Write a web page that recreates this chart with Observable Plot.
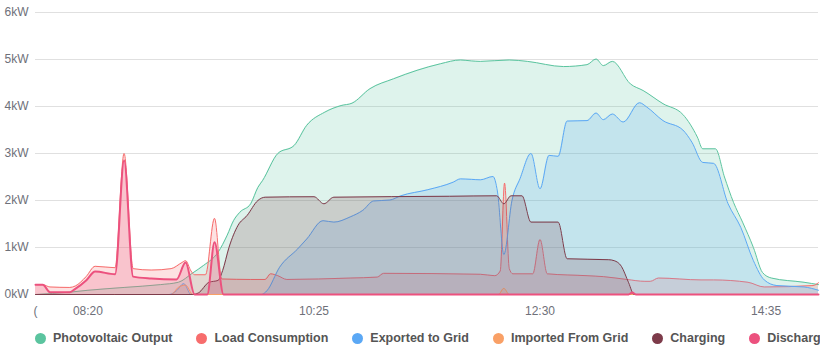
<!DOCTYPE html>
<html><head><meta charset="utf-8">
<script src="https://cdn.jsdelivr.net/npm/d3@7"></script>
<script src="https://cdn.jsdelivr.net/npm/@observablehq/plot@0.6"></script>
<style>
html,body{margin:0;padding:0;background:#fff;}
body{width:820px;height:354px;overflow:hidden;font-family:"Liberation Sans",Arial,sans-serif;}
#legend{display:flex;align-items:center;height:32px;white-space:nowrap;overflow:hidden;width:820px;padding-left:35px;box-sizing:border-box;font-weight:bold;font-size:12.5px;color:#555;}
.item{display:flex;align-items:center;margin-right:24px;flex:none;}
.dot{width:11px;height:11px;border-radius:50%;margin-right:7px;}
</style></head><body>
<div id="chart"></div>
<div id="legend"></div>
<script>
// time in minutes since midnight, value in kW
const seriesNames = ["Photovoltaic Output","Load Consumption","Exported to Grid","Imported From Grid","Charging","Discharging"];
const seriesColors = ["#5bc49f","#f76d6d","#5ba8f5","#f9a066","#7d3b4a","#ec517e"];

const pvTimes  = [471,490,500,520,540,550,558,564,572,577,580.5,584,590,594,596.5,605,614,621,631,640,646,656,669,682,695,706,712,717,733,743,763,776,781,785,790,800,807,818,829,837,840,847,852,857,862,868,873,878,896,904];
const pvValues = [0,0.05,0.09,0.15,0.21,0.26,0.46,0.62,0.9,1.26,1.57,1.75,1.93,2.28,2.42,3.0,3.17,3.6,3.88,4.02,4.07,4.38,4.59,4.77,4.91,4.99,4.97,4.96,4.99,4.96,4.85,4.89,5.01,4.87,4.96,4.48,4.34,4.06,3.83,3.35,3.1,3.1,2.5,1.96,1.54,1.0,0.47,0.35,0.26,0.21];

const loadTimes  = [471,475,479,490,493,499,504,515,520,525,535,546,552,554,557,559,565,570,574,590,598,601,605,610,645,660,663.5,717,725,728,730.4,733,735,746,750,754,776,785,798,808,811,815.5,839,846,865,874,901,904];
const loadValues = [0.21,0.21,0.16,0.15,0.18,0.38,0.6,0.57,3.0,0.55,0.52,0.55,0.68,0.72,0.5,0.42,0.42,1.62,0.33,0.32,0.32,0.44,0.4,0.32,0.35,0.37,0.45,0.43,0.4,0.5,2.37,0.55,0.44,0.44,1.17,0.44,0.4,0.38,0.32,0.28,0.28,0.35,0.31,0.31,0.26,0.16,0.19,0.25];

const exportTimes  = [471,545,549,553,557,596,599,606,616,621,630,636,645,652,658,667,673,688,702,706,712,717,724,726.5,730,734.5,739,745,750,755,760,765,776,781,785,790,796,805,809,818,829,834,840,846,854,861,868,874,881,896,904];
const exportValues = [0,0,0.08,0.23,0,0,0.08,0.58,0.97,1.18,1.57,1.54,1.65,1.79,1.99,2.01,2.1,2.23,2.39,2.46,2.45,2.44,2.51,2.18,0.85,2.0,2.47,3.0,2.25,2.96,2.94,3.69,3.7,3.86,3.72,3.84,3.67,4.08,3.99,3.7,3.5,3.24,2.81,2.79,1.93,1.43,0.72,0.31,0.19,0.16,0.09];

const importTimes  = [471,546,550,554,558,727,730,733,904];
const importValues = [0,0,0.15,0.2,0,0,0.13,0,0];

const chargeTimes  = [471,558,561,567,572,574.5,578,583,588,594,598,625,630.5,636,700,726,730,734,740,745,760,765,788,791,795,799,802,904];
const chargeValues = [0,0,0.03,0.26,0.3,0.51,1.0,1.47,1.68,2.0,2.07,2.08,1.93,2.07,2.09,2.1,1.93,2.1,2.1,1.54,1.54,0.76,0.74,0.72,0.6,0.25,0,0];

const dischargeTimes  = [471,475,479,490,493,499,504,515,520,525,535,549,554,559,566,570,575,799,801,803,904];
const dischargeValues = [0.21,0.21,0.05,0.05,0.12,0.3,0.49,0.43,2.85,0.38,0.34,0.32,0.68,0,0,1.11,0,0,0.04,0,0];

const xTicks = [471,500,625,750,875];
const xTickLabels = ["(","08:20","10:25","12:30","14:35"];
const yTicks = [0,1,2,3,4,5,6];
const yTickLabels = ["0kW","1kW","2kW","3kW","4kW","5kW","6kW"];

const seriesData = [
  [pvTimes,pvValues],[loadTimes,loadValues],[exportTimes,exportValues],
  [importTimes,importValues],[chargeTimes,chargeValues],[dischargeTimes,dischargeValues]
].map(([ts,vs]) => ts.map((t,i)=>({t, v: vs[i]})));

const xLabelMap = new Map(xTicks.map((d,i)=>[d,xTickLabels[i]]));
const yLabelMap = new Map(yTicks.map((d,i)=>[d,yTickLabels[i]]));

const marks = [Plot.gridY(yTicks, {stroke:"#e0e0e0", strokeOpacity:1})];
seriesData.forEach((data, k) => {
  marks.push(Plot.areaY(data, {x:"t", y:"v", curve:"monotone-x", fill: seriesColors[k], fillOpacity: 0.2}));
  marks.push(Plot.lineY(data, {x:"t", y:"v", curve:"monotone-x", stroke: seriesColors[k], strokeWidth: k===5 ? 2 : 1}));
});

const chart = Plot.plot({
  width: 820, height: 322,
  marginLeft: 35, marginRight: 2, marginTop: 12, marginBottom: 28,
  style: {fontFamily: "'Liberation Sans', Arial, sans-serif", fontSize: "12px", color: "#6e7079", background: "#fff", overflow: "visible"},
  x: {domain: [471, 904], ticks: xTicks, tickFormat: d => xLabelMap.get(d), tickSize: 0, tickPadding: 12, label: null},
  y: {domain: [0, 6], ticks: yTicks, tickFormat: d => yLabelMap.get(d), tickSize: 0, tickPadding: 7, label: null},
  marks
});
document.getElementById("chart").appendChild(chart);

const legend = document.getElementById("legend");
seriesNames.forEach((name, k) => {
  const item = document.createElement("div");
  item.className = "item";
  const dot = document.createElement("span");
  dot.className = "dot";
  dot.style.background = seriesColors[k];
  const label = document.createElement("span");
  label.textContent = name;
  item.appendChild(dot); item.appendChild(label);
  legend.appendChild(item);
});
</script>
</body></html>
